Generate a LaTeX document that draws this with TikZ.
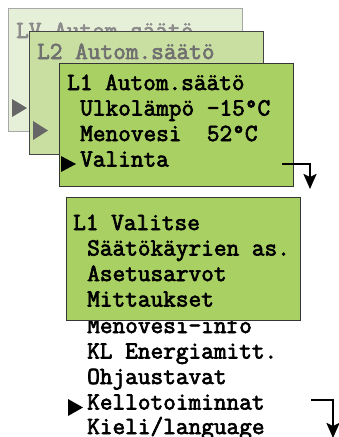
\documentclass[tikz,border=0pt]{standalone}
\usepackage{fontspec}
\newfontfamily\lcd[FakeBold=2.8]{Latin Modern Mono}
\usetikzlibrary{arrows.meta}
\definecolor{lvfill}{HTML}{E6EFD7}
\definecolor{lvdraw}{HTML}{A8A8A8}
\definecolor{ltwofill}{HTML}{C9DFA1}
\definecolor{ltwodraw}{HTML}{454545}
\definecolor{lonefill}{HTML}{A9D062}
\definecolor{lonedraw}{HTML}{353535}
\definecolor{lvtext}{HTML}{8C8C8C}
\definecolor{ltwotext}{HTML}{707070}
\definecolor{tri}{HTML}{666666}
\begin{document}
\begin{tikzpicture}[x=1pt,y=-1pt,
  screen/.style={draw, line width=1.3pt, minimum width=234pt, minimum height=123pt, anchor=north west, inner sep=0pt},
  txt/.style={anchor=base west, inner sep=0pt, font=\lcd\fontsize{24.6}{25.6}\selectfont},
  flow/.style={line width=2.4pt, -{Stealth[length=15pt,width=13pt,inset=3pt]}}]
\useasboundingbox (0,0) rectangle (339,437);
% LV screen
\node[screen, fill=lvfill, draw=lvdraw] (lv) at (8,8) {};
\node[txt, text=lvtext] (lvt) at (16,38) {LV Autom.säätö};
\fill[tri] (12,99) -- (27,108) -- (12,117) -- cycle;
% L2 screen
\node[screen, fill=ltwofill, draw=ltwodraw] (ltwo) at (29,31) {};
\node[txt, text=ltwotext] (ltwot) at (37,59) {L2 Autom.säätö};
\fill[tri] (33,121) -- (48,130.5) -- (33,140) -- cycle;
% L1 screen
\node[screen, fill=lonefill, draw=lonedraw] (lone) at (59,63) {};
\node[txt] (a1) at (67,90) {L1 Autom.säätö};
\node[txt] (a2) at (80,115.5) {Ulkolämpö -15°C};
\node[txt] (a3) at (80,141) {Menovesi\ \ 52°C};
\node[txt] (a4) at (80,166.5) {Valinta};
\fill[black] (61,156) -- (76,164) -- (61,172) -- cycle;
\coordinate (f1s) at (282,164);
\coordinate (f1e) at (310,189);
\draw[flow] (f1s) -| (f1e);
% L1 Valitse list
\node[txt] (b5) at (87,333) {Menovesi-info};
\node[txt] (b6) at (87,358.5) {KL Energiamitt.};
\node[txt] (b7) at (87,384) {Ohjaustavat};
\node[txt] (b8) at (87,409.5) {Kellotoiminnat};
\node[txt] (b9) at (87,434) {Kieli/language};
\node[screen, fill=lonefill, draw=lonedraw] (val) at (66,197) {};
\node[txt] (b1) at (73,230) {L1 Valitse};
\node[txt] (b2) at (87,255.5) {Säätökäyrien as.};
\node[txt] (b3) at (87,281) {Asetusarvot};
\node[txt] (b4) at (87,306.5) {Mittaukset};
\fill[black] (68,399) -- (83,407.5) -- (68,416) -- cycle;
\coordinate (f2s) at (311,400);
\coordinate (f2e) at (333,438);
\draw[flow] (f2s) -| (f2e);
\end{tikzpicture}
\end{document}
